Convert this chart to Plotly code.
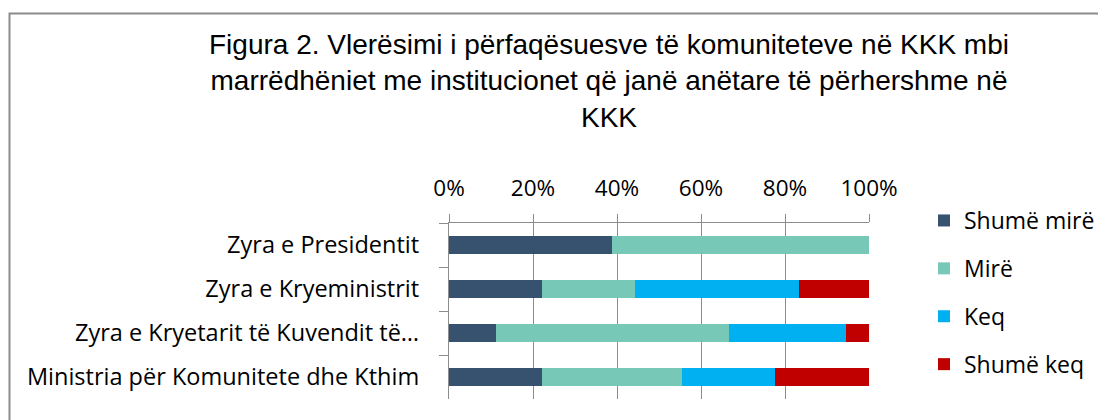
import plotly.graph_objects as go

categories = [
    "Zyra e Presidentit",
    "Zyra e Kryeministrit",
    "Zyra e Kryetarit të Kuvendit të…",
    "Ministria për Komunitete dhe Kthim",
]
series_names = ["Shumë mirë", "Mirë", "Keq", "Shumë keq"]
shume_mire = [38.9, 22.2, 11.1, 22.2]
mire = [61.1, 22.2, 55.6, 33.3]
keq = [0.0, 38.9, 27.8, 22.2]
shume_keq = [0.0, 16.7, 5.5, 22.3]
colors = ["#36526e", "#78c8b8", "#00b0f0", "#c00000"]
x_ticks = [0, 20, 40, 60, 80, 100]
x_tick_labels = [f"{v}%" for v in x_ticks]

title_text = ("Figura 2. Vlerësimi i përfaqësuesve të komuniteteve në KKK mbi<br>"
              "marrëdhëniet me institucionet që janë anëtare të përhershme në<br>KKK")

GRAY = "#8c8c8c"
FONT = "Open Sans"

fig = go.Figure()
for i, (name, vals) in enumerate(zip(series_names, [shume_mire, mire, keq, shume_keq])):
    fig.add_trace(go.Bar(
        y=categories, x=vals, name=name, orientation="h",
        marker=dict(color=colors[i], line=dict(width=0)),
        legendgroup=f"g{i}",
    ))

# page has an 8px body margin, so the figure is 8px smaller each way
OFF = 8
W, H = 1106 - OFF, 420 - OFF
L = 449 - OFF
R = W - (869 - OFF)
T = 223 - OFF
B = H - (399 - OFF)
pw, ph = W - L - R, H - T - B

def px(xp):  # figure pixel -> paper x
    return (xp - L) / pw

def py(yp):  # figure pixel -> paper y
    return (H - B - yp) / ph

fig.update_layout(
    width=W, height=H,
    barmode="stack", bargap=0.6,
    margin=dict(l=L, r=R, t=T, b=B, pad=0, autoexpand=False),
    paper_bgcolor="white", plot_bgcolor="white",
    font=dict(family=FONT, size=23, color="#000000"),
    title=dict(text=title_text, x=601 / W, xanchor="center", xref="container",
               y=1 - 46 / H, yanchor="top",
               font=dict(family="Liberation Sans Narrow, Arial Narrow, Liberation Sans", size=28, color="#000000")),
    legend=dict(x=px(916), xanchor="left", y=py(191), yanchor="top",
                font=dict(family=FONT, size=23), traceorder="grouped", tracegroupgap=15,
                itemwidth=30, bgcolor="rgba(0,0,0,0)"),
    xaxis=dict(range=[0, 100], side="top", tickmode="array", tickvals=x_ticks, ticktext=x_tick_labels,
               showgrid=True, gridcolor=GRAY, gridwidth=1.3,
               showline=True, linecolor=GRAY, linewidth=1.3,
               ticks="outside", ticklen=8, tickcolor=GRAY, tickwidth=1.3, automargin=False,
               ticklabelstandoff=9,
               zeroline=False, tickfont=dict(family=FONT, size=22.5), fixedrange=True),
    yaxis=dict(autorange="reversed", tickson="boundaries", ticks="outside", ticklen=9,
               tickcolor=GRAY, tickwidth=1.3, showline=True, linecolor=GRAY, linewidth=1.3,
               showgrid=False, ticklabelstandoff=24, automargin=False,
               tickfont=dict(family=FONT, size=23.5)),
    shapes=[dict(type="rect", xref="paper", yref="paper",
                 x0=px(9.5 - OFF), x1=px(1115), y0=py(13.5 - OFF), y1=py(430),
                 line=dict(color=GRAY, width=2), fillcolor="rgba(0,0,0,0)", layer="below")],
)

fig.write_html("out.html")
